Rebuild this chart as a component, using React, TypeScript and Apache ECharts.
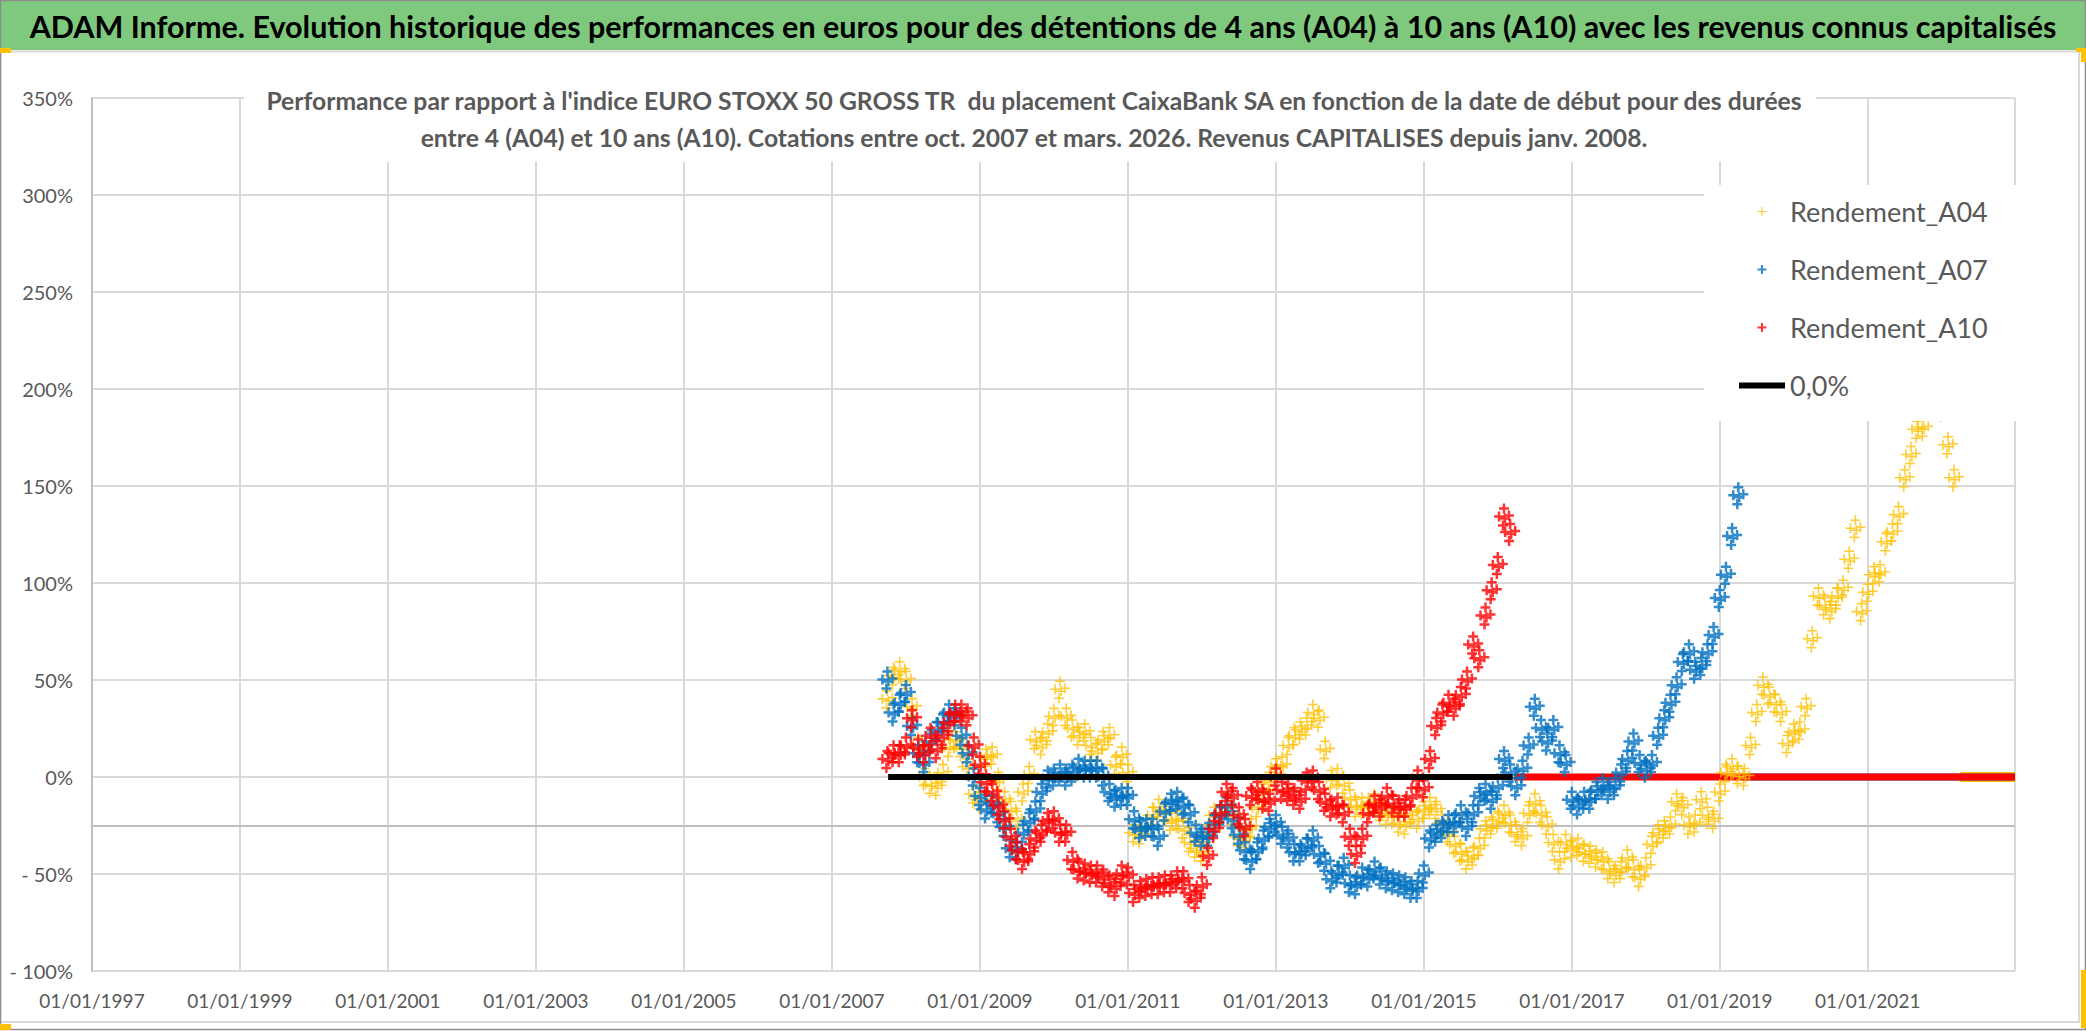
import React, { useEffect, useRef } from "react";
import * as echarts from "echarts";

// ---- data (monthly readings, start-date of the holding period) ----
const START_YEAR = 2007;
const START_MONTH = 9; // October (0-based month index)

// Rendement_A04 : Oct 2007 -> Mar 2022
const a04: number[] = [
  40, 52, 55,
  50, 36, 16, 0, -4, -5, 2, 15, 19, 15, 5, -9,
  -12, 10, 11, -2, -12, -17, -22, -8, 1, 19, 16, 23,
  31, 45, 31, 25, 21, 23, 16, 13, 19, 21, 6, 11,
  2, -29, -30, -26, -20, -16, -18, -23, -22, -27, -34, -37,
  -39, -29, -20, -19, -15, -20, -31, -32, -26, -16, -8, -2,
  5, 6, 16, 21, 24, 26, 33, 30, 14, -1, 0, -4,
  -11, -16, -15, -15, -13, -18, -20, -20, -24, -25, -19, -22,
  -17, -15, -17, -24, -29, -35, -39, -43, -41, -36, -27, -25,
  -22, -19, -24, -29, -31, -19, -13, -19, -25, -34, -43, -34,
  -37, -36, -39, -40, -42, -43, -48, -50, -48, -42, -47, -52,
  -46, -35, -29, -27, -25, -13, -15, -25, -24, -12, -20, -22,
  -8, 2, 5, 1, 0, 16, 33, 47, 42, 38, 33, 17,
  23, 24, 36, 71, 93, 88, 86, 93, 97, 112, 128, 85,
  95, 104, 105, 121, 126, 135, 154, 166, 179, 180, 195, 200,
  190, 171, 154,
];

// Rendement_A07 : Oct 2007 -> Apr 2019
const a07: number[] = [
  50, 33, 38,
  43, 26, 12, 7, 18, 24, 28, 33, 31, 21, 12, 0,
  -10, -17, -14, -19, -26, -37, -38, -29, -23, -17, -8, -1,
  0, 2, 0, 2, 5, 4, 4, 4, 0, -8, -11, -10,
  -10, -22, -27, -26, -26, -31, -18, -13, -12, -15, -19, -29,
  -31, -31, -24, -20, -15, -22, -30, -38, -43, -38, -32, -26,
  -24, -30, -32, -39, -39, -36, -32, -40, -44, -53, -50, -46,
  -55, -56, -51, -52, -48, -51, -53, -54, -55, -56, -58, -58,
  -50, -32, -29, -27, -24, -24, -19, -26, -19, -10, -8, -12,
  -5, 9, 2, -5, 4, 16, 36, 25, 18, 25, 12, 7,
  -12, -15, -12, -12, -7, -5, -7, -5, 2, 9, 18, 7,
  4, 7, 21, 30, 38, 47, 59, 64, 55, 57, 64, 73,
  92, 104, 124, 145,
];

// Rendement_A10 : Oct 2007 -> Mar 2016
const a10: number[] = [
  9, 12, 12,
  16, 30, 15, 12, 21, 14, 21, 28, 33, 33, 31, 16,
  6, -3, -8, -15, -22, -31, -38, -43, -39, -32, -29, -23,
  -22, -29, -29, -43, -48, -49, -50, -50, -52, -55, -57, -50,
  -51, -60, -58, -57, -56, -56, -55, -55, -53, -53, -60, -63,
  -56, -41, -27, -19, -8, -10, -20, -26, -10, -7, -12, -13,
  0, -7, -8, -10, -12, -2, -1, -7, -13, -16, -15, -19,
  -31, -40, -31, -19, -14, -16, -10, -14, -16, -16, -10, -1,
  -6, 9, 26, 33, 38, 36, 42, 50, 68, 61, 83, 96,
  109, 134, 126,
];

// start dates after which each series is 0 (no complete holding yet), up to axis end
const a04ZeroFrom = 2022.25;
const a07ZeroFrom = 2019.3;
const a10ZeroFrom = 2016.22;
const zeroLineFrom = 2007.76;
const zeroLineTo = 2016.2;

const X_MIN = 1997;
const X_MAX = 2022.99;
const X_STEP = 2;
const Y_MIN = -100;
const Y_MAX = 350;
const Y_STEP = 50;
const AXIS_CROSS = -25;

const TITLE =
  "ADAM Informe. Evolution historique des performances en euros pour des détentions de 4 ans (A04) à 10 ans (A10) avec les revenus connus capitalisés";
const SUB1 =
  "Performance par rapport à l'indice EURO STOXX 50 GROSS TR  du placement CaixaBank SA en fonction de la date de début pour des durées";
const SUB2 =
  "entre 4 (A04) et 10 ans (A10). Cotations entre oct. 2007 et mars. 2026. Revenus CAPITALISES depuis janv. 2008.";

const FONT = "Lato, 'Open Sans', sans-serif";

// "+" glyph outline centred at (cx, cy), half-size h, half-thickness t
function plus(cx: number, cy: number, h: number, t: number) {
  return (
    `M${cx - t},${cy - h}H${cx + t}V${cy - t}H${cx + h}V${cy + t}H${cx + t}V${cy + h}` +
    `H${cx - t}V${cy + t}H${cx - h}V${cy - t}H${cx - t}Z`
  );
}
const PLUS = "path://" + plus(5, 5, 5, 1.1);
const PLUS_THIN = "path://" + plus(5, 5, 5, 0.65);
// marker glyph: a small cluster of crosses (daily quotes appear as dense "+" bands)
const cluster = (t: number) =>
  "path://" +
  [plus(10, 5, 5, t), plus(5, 13, 5, t), plus(15, 12, 5, t), plus(11, 15, 5, t), plus(9, 22, 5, t)].join(" ");
const PLUS_CLUSTER = cluster(1.25);
const PLUS_CLUSTER_THIN = cluster(0.8);
const ZERO_ICON = "path://M0,0H46V6H0Z";

function toPoints(values: number[]) {
  return values.map((v, i) => [START_YEAR + (START_MONTH + i) / 12, v]);
}

export default function App() {
  const ref = useRef<HTMLDivElement>(null);
  useEffect(() => {
    if (!ref.current) return;
    const chart = echarts.init(ref.current, undefined, { renderer: "svg" });
    const option: any = {
      animation: false,
      backgroundColor: "#ffffff",
      grid: { left: 92, top: 98, width: 1923, height: 873, containLabel: false },
      xAxis: {
        type: "value",
        min: X_MIN,
        max: X_MAX,
        interval: X_STEP,
        axisLine: { show: false, onZero: false },
        axisTick: { show: false },
        splitLine: { show: true, lineStyle: { color: "#d9d9d9", width: 2 } },
        axisLabel: {
          formatter: (v: number) => "01/01/" + Math.round(v),
          fontSize: 19,
          color: "#595959",
          fontFamily: FONT,
          margin: 20,
          showMaxLabel: false,
        },
      },
      yAxis: {
        type: "value",
        min: Y_MIN,
        max: Y_MAX,
        interval: Y_STEP,
        axisLine: { show: true, lineStyle: { color: "#bfbfbf", width: 2 } },
        axisTick: { show: false },
        splitLine: { show: true, lineStyle: { color: "#d9d9d9", width: 2 } },
        axisLabel: {
          formatter: (v: number) => (v < 0 ? "- " + Math.abs(v) + "%" : v + "%"),
          fontSize: 20,
          color: "#595959",
          fontFamily: FONT,
          margin: 19,
        },
      },
      legend: {
        orient: "vertical",
        left: 1739,
        top: 198,
        padding: 0,
        itemWidth: 46,
        itemHeight: 9,
        itemGap: 31,
        z: 20,
        textStyle: { fontSize: 27, color: "#595959", fontFamily: FONT },
        data: [
          { name: "Rendement_A04", icon: PLUS_THIN },
          { name: "Rendement_A07", icon: PLUS },
          { name: "Rendement_A10", icon: PLUS },
          { name: "0,0%", icon: ZERO_ICON },
        ],
      },
      series: [
        {
          name: "Rendement_A04",
          type: "scatter",
          data: toPoints(a04),
          symbol: PLUS_CLUSTER_THIN,
          symbolSize: [20, 27],
          itemStyle: { color: "#FFC000" },
          z: 2,
        },
        {
          name: "Rendement_A07",
          type: "scatter",
          data: toPoints(a07),
          symbol: PLUS_CLUSTER,
          symbolSize: [20, 27],
          itemStyle: { color: "#0070C0" },
          z: 2,
        },
        {
          name: "Rendement_A10",
          type: "scatter",
          data: toPoints(a10),
          symbol: PLUS_CLUSTER,
          symbolSize: [20, 27],
          itemStyle: { color: "#FF0000" },
          z: 2,
        },
        {
          name: "A04_zero",
          type: "line",
          data: [[a04ZeroFrom, 0], [X_MAX, 0]],
          symbol: "none",
          lineStyle: { color: "#FFC000", width: 10 },
          z: 2,
          silent: true,
        },
        {
          name: "A07_zero",
          type: "line",
          data: [[a07ZeroFrom, 0], [X_MAX, 0]],
          symbol: "none",
          lineStyle: { color: "#0070C0", width: 7 },
          z: 2,
          silent: true,
        },
        {
          name: "A10_zero",
          type: "line",
          data: [[a10ZeroFrom, 0], [X_MAX, 0]],
          symbol: "none",
          lineStyle: { color: "#FF0000", width: 7 },
          z: 2,
          silent: true,
        },
        {
          name: "0,0%",
          type: "line",
          data: [[zeroLineFrom, 0], [zeroLineTo, 0]],
          symbol: "none",
          lineStyle: { color: "#000000", width: 6 },
          itemStyle: { color: "#000000" },
          z: 3,
          markLine: {
            silent: true,
            symbol: "none",
            label: { show: false },
            lineStyle: { color: "#bfbfbf", width: 2, type: "solid" },
            data: [{ yAxis: AXIS_CROSS }],
            z: 1,
          },
        },
      ],
      graphic: [
        { type: "rect", z: 5, shape: { x: 0, y: 0, width: 2086, height: 50 }, style: { fill: "#7ec97e" } },
        { type: "line", z: 6, shape: { x1: 0, y1: 51.5, x2: 2080, y2: 51.5 }, style: { stroke: "#d9d9d9", lineWidth: 2 } },
        { type: "line", z: 6, shape: { x1: 2079, y1: 52, x2: 2079, y2: 1022 }, style: { stroke: "#d9d9d9", lineWidth: 2 } },
        { type: "line", z: 6, shape: { x1: 0, y1: 1022, x2: 2080, y2: 1022 }, style: { stroke: "#d9d9d9", lineWidth: 2 } },
        { type: "rect", z: 7, shape: { x: 0.5, y: 0.5, width: 2085, height: 1029 }, style: { fill: "none", stroke: "#8c8c8c", lineWidth: 1.5 } },
        { type: "rect", z: 7, shape: { x: 0, y: 48, width: 11, height: 5 }, style: { fill: "#FFC000" } },
        { type: "rect", z: 7, shape: { x: 0, y: 1024, width: 11, height: 6 }, style: { fill: "#FFC000" } },
        { type: "rect", z: 7, shape: { x: 2076, y: 48, width: 10, height: 4 }, style: { fill: "#FFC000" } },
        { type: "rect", z: 7, shape: { x: 2081, y: 48, width: 5, height: 14 }, style: { fill: "#FFC000" } },
        { type: "rect", z: 7, shape: { x: 2081, y: 970, width: 5, height: 58 }, style: { fill: "#FFC000" } },
        {
          type: "text", z: 8, x: 1043, y: 26,
          style: { text: TITLE, fill: "#000000", font: "bold 30.5px " + FONT, textAlign: "center", textVerticalAlign: "middle" },
        },
        { type: "rect", z: 5, shape: { x: 244, y: 70, width: 1572, height: 92 }, style: { fill: "#ffffff" } },
        {
          type: "text", z: 8, x: 1034, y: 100,
          style: { text: SUB1, fill: "#595959", font: "bold 24.7px " + FONT, textAlign: "center", textVerticalAlign: "middle" },
        },
        {
          type: "text", z: 8, x: 1034, y: 137,
          style: { text: SUB2, fill: "#595959", font: "bold 24.7px " + FONT, textAlign: "center", textVerticalAlign: "middle" },
        },
        { type: "rect", z: 5, shape: { x: 1704, y: 185, width: 312, height: 236 }, style: { fill: "#ffffff" } },
      ],
    };
    chart.setOption(option);
    return () => chart.dispose();
  }, []);
  return (
    <div
      ref={ref}
      style={{ position: "fixed", left: 0, top: 0, width: 2086, height: 1031, background: "#fff" }}
    />
  );
}
